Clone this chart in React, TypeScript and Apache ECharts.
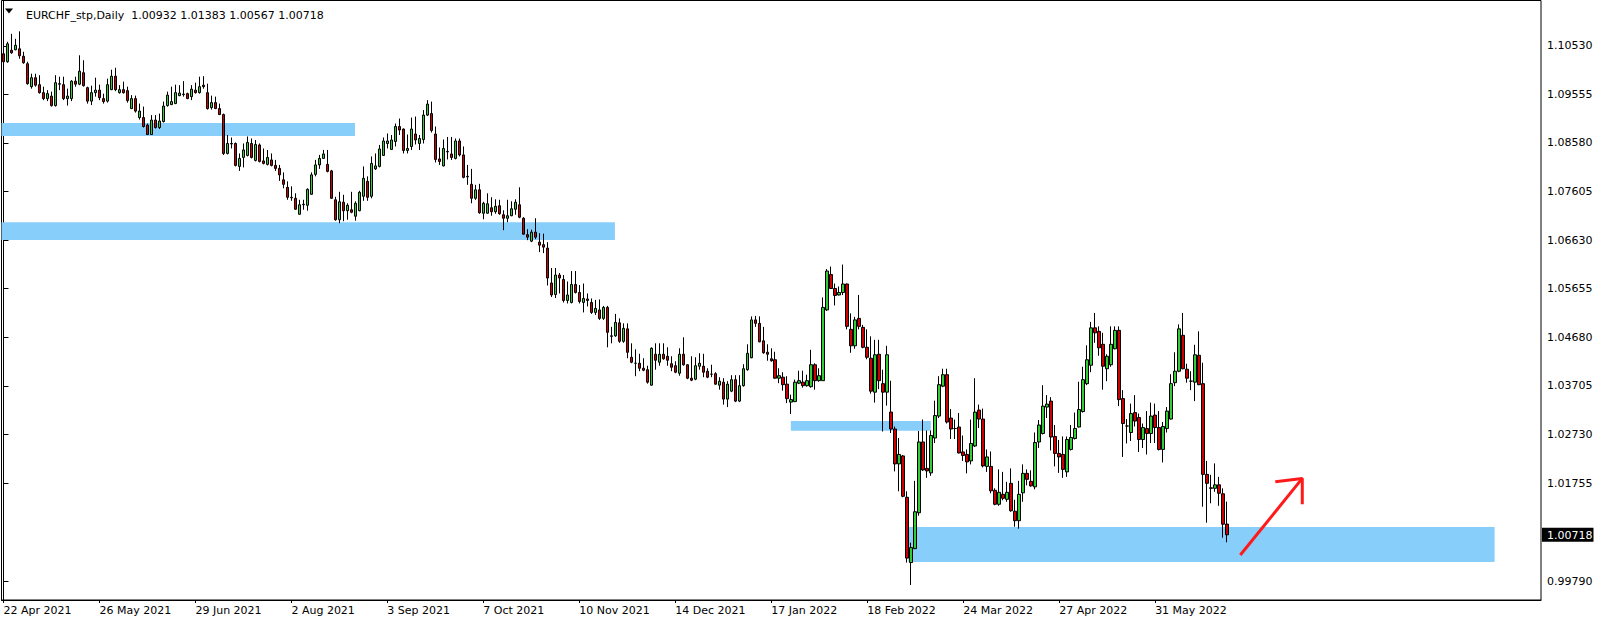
import React, { useEffect, useRef } from "react";
import * as echarts from "echarts";

const TITLE = "EURCHF_stp,Daily  1.00932 1.01383 1.00567 1.00718";
const FONT = "DejaVu Sans";

// Daily bars, each [open, high, low, close], from 22 Apr 2021
const bars2021a = [
  [1.1037, 1.1054, 1.1019, 1.1021], [1.1021, 1.1061, 1.1019, 1.1057], [1.1044, 1.1077, 1.1037, 1.1039],
  [1.1045, 1.1067, 1.1044, 1.1054], [1.1047, 1.1082, 1.1027, 1.1033], [1.1032, 1.1041, 1.1017, 1.1019],
  [1.1017, 1.1021, 1.0975, 1.0977], [1.0971, 1.0997, 1.0967, 1.0989], [1.0989, 1.0997, 1.0971, 1.0974],
  [1.0975, 1.0994, 1.0957, 1.0959], [1.0959, 1.0971, 1.0944, 1.0947], [1.0947, 1.0964, 1.0942, 1.0957],
  [1.0952, 1.0961, 1.0931, 1.0933], [1.0933, 1.0994, 1.0931, 1.0979], [1.0977, 1.0991, 1.0964, 1.0976],
  [1.0975, 1.0991, 1.0944, 1.0947], [1.0947, 1.0967, 1.0933, 1.0952], [1.0947, 1.0984, 1.0942, 1.0982],
  [1.0982, 1.0991, 1.0971, 1.0976], [1.0976, 1.1034, 1.0974, 1.1002], [1.0999, 1.1024, 1.0971, 1.0973],
  [1.0969, 1.0971, 1.0937, 1.0942], [1.0942, 1.0973, 1.0934, 1.0959], [1.0959, 1.0989, 1.0951, 1.0964],
  [1.0964, 1.0975, 1.0944, 1.0949], [1.0947, 1.0957, 1.0937, 1.0941], [1.0942, 1.0987, 1.0939, 1.0975],
  [1.0965, 1.1005, 1.0964, 1.0992], [1.0992, 1.1009, 1.0962, 1.0965], [1.0959, 1.0974, 1.0957, 1.0965],
  [1.0965, 1.0981, 1.0957, 1.0959], [1.0963, 1.0971, 1.0939, 1.0943], [1.0927, 1.0954, 1.0926, 1.0947],
  [1.0947, 1.0953, 1.0919, 1.0922], [1.0909, 1.0937, 1.0905, 1.0922], [1.0909, 1.0931, 1.0889, 1.0891],
];
const bars2021b = [
  [1.0894, 1.0897, 1.0874, 1.0875], [1.0875, 1.0914, 1.0874, 1.0904], [1.0904, 1.0914, 1.0887, 1.0889],
  [1.0889, 1.0917, 1.0886, 1.0902], [1.0901, 1.0941, 1.0899, 1.0932], [1.0933, 1.0961, 1.0931, 1.0954],
  [1.0935, 1.0971, 1.0934, 1.0941], [1.0937, 1.0975, 1.0936, 1.0959], [1.0953, 1.0974, 1.0952, 1.0958],
  [1.0956, 1.0982, 1.0951, 1.0955], [1.0957, 1.0959, 1.0946, 1.0947], [1.0951, 1.0974, 1.0944, 1.0966],
  [1.0964, 1.0979, 1.0957, 1.0959], [1.0959, 1.0991, 1.0957, 1.0971], [1.0974, 1.0992, 1.0967, 1.0971],
  [1.0959, 1.0977, 1.0925, 1.0927], [1.0929, 1.0953, 1.0925, 1.0939], [1.0939, 1.0951, 1.0926, 1.0927],
  [1.0927, 1.0937, 1.0914, 1.0915], [1.0915, 1.0917, 1.0834, 1.0837], [1.0837, 1.0874, 1.0835, 1.0857],
  [1.0857, 1.0869, 1.0847, 1.0856], [1.0857, 1.0859, 1.0811, 1.0813], [1.0811, 1.0837, 1.0802, 1.0827],
  [1.0829, 1.0857, 1.0809, 1.0844], [1.0833, 1.0871, 1.0831, 1.0859], [1.0857, 1.0867, 1.0827, 1.0829],
  [1.0823, 1.0864, 1.0821, 1.0855], [1.0854, 1.0857, 1.0819, 1.0821], [1.0822, 1.0847, 1.0815, 1.0817],
  [1.0815, 1.0844, 1.0813, 1.0829], [1.0824, 1.0837, 1.0811, 1.0813], [1.0813, 1.0824, 1.0802, 1.0807],
  [1.0807, 1.0814, 1.0782, 1.0794],
];
const bars2021c = [
  [1.0784, 1.0799, 1.0767, 1.0775], [1.0769, 1.0781, 1.0744, 1.0749], [1.0749, 1.0771, 1.0742, 1.0748],
  [1.0747, 1.0757, 1.0724, 1.0725], [1.0715, 1.0744, 1.0714, 1.0734], [1.0734, 1.0744, 1.0724, 1.0735],
  [1.0733, 1.0767, 1.0722, 1.0765], [1.0755, 1.0799, 1.0754, 1.0794], [1.0795, 1.0824, 1.0791, 1.0814],
  [1.0814, 1.0834, 1.0806, 1.0827], [1.0827, 1.0844, 1.0826, 1.0836], [1.0815, 1.0844, 1.0799, 1.0801],
  [1.0802, 1.0804, 1.0746, 1.0747], [1.0744, 1.0750, 1.0702, 1.0704], [1.0704, 1.0760, 1.0697, 1.0740],
  [1.0739, 1.0754, 1.0701, 1.0722], [1.0722, 1.0737, 1.0704, 1.0733], [1.0724, 1.0760, 1.0717, 1.0719],
  [1.0711, 1.0741, 1.0702, 1.0737], [1.0722, 1.0762, 1.0721, 1.0759], [1.0751, 1.0811, 1.0742, 1.0787],
  [1.0781, 1.0791, 1.0742, 1.0749], [1.0751, 1.0831, 1.0747, 1.0817], [1.0806, 1.0837, 1.0804, 1.0812],
  [1.0811, 1.0854, 1.0809, 1.0846], [1.0833, 1.0869, 1.0832, 1.0862], [1.0857, 1.0877, 1.0847, 1.0862],
  [1.0845, 1.0874, 1.0844, 1.0864], [1.0861, 1.0897, 1.0851, 1.0891], [1.0891, 1.0907, 1.0874, 1.0884],
  [1.0886, 1.0887, 1.0837, 1.0843], [1.0843, 1.0875, 1.0837, 1.0847], [1.0851, 1.0909, 1.0844, 1.0886],
  [1.0876, 1.0911, 1.0855, 1.0864], [1.0857, 1.0874, 1.0844, 1.0867],
];
const bars2021d = [
  [1.0865, 1.0924, 1.0857, 1.0914], [1.0914, 1.0944, 1.0912, 1.0936], [1.0917, 1.0941, 1.0879, 1.0883],
  [1.0876, 1.0891, 1.0819, 1.0825], [1.0826, 1.0849, 1.0814, 1.0821], [1.0812, 1.0865, 1.0811, 1.0847],
  [1.0840, 1.0870, 1.0825, 1.0841], [1.0836, 1.0870, 1.0824, 1.0829], [1.0827, 1.0867, 1.0825, 1.0862],
  [1.0862, 1.0867, 1.0831, 1.0834], [1.0834, 1.0851, 1.0787, 1.0789], [1.0791, 1.0814, 1.0774, 1.0790],
  [1.0775, 1.0806, 1.0737, 1.0747], [1.0747, 1.0774, 1.0744, 1.0764], [1.0764, 1.0776, 1.0716, 1.0718],
  [1.0717, 1.0740, 1.0705, 1.0737], [1.0717, 1.0757, 1.0716, 1.0736], [1.0728, 1.0749, 1.0712, 1.0720],
  [1.0720, 1.0745, 1.0716, 1.0731], [1.0732, 1.0744, 1.0714, 1.0716], [1.0714, 1.0723, 1.0683, 1.0707],
  [1.0707, 1.0744, 1.0699, 1.0712], [1.0712, 1.0741, 1.0711, 1.0726], [1.0725, 1.0745, 1.0714, 1.0739],
  [1.0734, 1.0769, 1.0707, 1.0709], [1.0707, 1.0709, 1.0674, 1.0675], [1.0674, 1.0685, 1.0663, 1.0669],
  [1.0661, 1.0684, 1.0659, 1.0679], [1.0679, 1.0707, 1.0665, 1.0669], [1.0659, 1.0677, 1.0639, 1.0653],
  [1.0654, 1.0676, 1.0637, 1.0649], [1.0647, 1.0659, 1.0572, 1.0587], [1.0577, 1.0607, 1.0549, 1.0553],
  [1.0554, 1.0607, 1.0547, 1.0593], [1.0593, 1.0597, 1.0556, 1.0587], [1.0584, 1.0593, 1.0538, 1.0542],
];
const bars2021e = [
  [1.0542, 1.0580, 1.0536, 1.0553], [1.0538, 1.0601, 1.0536, 1.0574], [1.0574, 1.0601, 1.0556, 1.0558],
  [1.0558, 1.0573, 1.0536, 1.0540], [1.0538, 1.0576, 1.0518, 1.0546], [1.0545, 1.0556, 1.0530, 1.0542],
  [1.0538, 1.0546, 1.0515, 1.0518], [1.0518, 1.0543, 1.0513, 1.0526], [1.0523, 1.0544, 1.0503, 1.0506],
  [1.0506, 1.0531, 1.0503, 1.0528], [1.0528, 1.0531, 1.0448, 1.0478], [1.0471, 1.0489, 1.0456, 1.0470],
  [1.0471, 1.0515, 1.0469, 1.0498], [1.0497, 1.0506, 1.0457, 1.0460], [1.0460, 1.0496, 1.0457, 1.0486],
  [1.0485, 1.0496, 1.0426, 1.0438], [1.0428, 1.0456, 1.0416, 1.0418], [1.0416, 1.0444, 1.0390, 1.0416],
  [1.0416, 1.0435, 1.0400, 1.0406], [1.0406, 1.0426, 1.0400, 1.0402], [1.0403, 1.0411, 1.0375, 1.0378],
  [1.0372, 1.0448, 1.0371, 1.0446], [1.0434, 1.0456, 1.0403, 1.0422], [1.0418, 1.0456, 1.0411, 1.0434],
  [1.0434, 1.0456, 1.0423, 1.0425], [1.0430, 1.0448, 1.0411, 1.0422], [1.0415, 1.0430, 1.0400, 1.0408],
  [1.0411, 1.0420, 1.0396, 1.0398], [1.0396, 1.0446, 1.0391, 1.0434], [1.0434, 1.0468, 1.0411, 1.0413],
  [1.0413, 1.0414, 1.0384, 1.0386], [1.0386, 1.0430, 1.0380, 1.0382], [1.0384, 1.0428, 1.0382, 1.0411],
  [1.0410, 1.0436, 1.0403, 1.0416], [1.0410, 1.0435, 1.0388, 1.0398],
];
const bars2022a = [
  [1.0400, 1.0406, 1.0386, 1.0388], [1.0394, 1.0413, 1.0388, 1.0394], [1.0395, 1.0398, 1.0373, 1.0374],
  [1.0372, 1.0388, 1.0363, 1.0380], [1.0378, 1.0386, 1.0333, 1.0344], [1.0344, 1.0380, 1.0328, 1.0374],
  [1.0360, 1.0392, 1.0358, 1.0383], [1.0383, 1.0392, 1.0338, 1.0340], [1.0340, 1.0392, 1.0338, 1.0371],
  [1.0371, 1.0414, 1.0369, 1.0405], [1.0403, 1.0454, 1.0401, 1.0436], [1.0427, 1.0510, 1.0426, 1.0503],
  [1.0503, 1.0511, 1.0489, 1.0496], [1.0496, 1.0510, 1.0458, 1.0459], [1.0461, 1.0489, 1.0435, 1.0437],
  [1.0438, 1.0454, 1.0421, 1.0434], [1.0425, 1.0446, 1.0419, 1.0421], [1.0423, 1.0439, 1.0385, 1.0386],
  [1.0386, 1.0406, 1.0376, 1.0391], [1.0388, 1.0398, 1.0361, 1.0373], [1.0374, 1.0390, 1.0336, 1.0345],
  [1.0338, 1.0353, 1.0314, 1.0343], [1.0339, 1.0383, 1.0338, 1.0378], [1.0376, 1.0401, 1.0374, 1.0381],
  [1.0378, 1.0401, 1.0367, 1.0371], [1.0371, 1.0393, 1.0369, 1.0381], [1.0369, 1.0443, 1.0367, 1.0413],
  [1.0413, 1.0416, 1.0363, 1.0381], [1.0381, 1.0406, 1.0379, 1.0391], [1.0381, 1.0548, 1.0381, 1.0528],
  [1.0523, 1.0605, 1.0521, 1.0601], [1.0594, 1.0610, 1.0565, 1.0566], [1.0566, 1.0576, 1.0532, 1.0552],
  [1.0553, 1.0570, 1.0552, 1.0558], [1.0558, 1.0614, 1.0553, 1.0575],
];
const bars2022b = [
  [1.0575, 1.0576, 1.0484, 1.0490], [1.0484, 1.0516, 1.0437, 1.0451], [1.0451, 1.0509, 1.0445, 1.0503],
  [1.0506, 1.0553, 1.0484, 1.0490], [1.0488, 1.0493, 1.0446, 1.0448], [1.0448, 1.0484, 1.0424, 1.0428],
  [1.0426, 1.0470, 1.0355, 1.0360], [1.0358, 1.0463, 1.0337, 1.0433], [1.0434, 1.0463, 1.0364, 1.0381],
  [1.0375, 1.0403, 1.0279, 1.0358], [1.0358, 1.0451, 1.0331, 1.0433], [1.0318, 1.0381, 1.0276, 1.0284],
  [1.0284, 1.0289, 1.0199, 1.0214], [1.0214, 1.0266, 1.0159, 1.0233], [1.0230, 1.0232, 1.0147, 1.0149],
  [1.0147, 1.0159, 1.0016, 1.0025], [1.0016, 1.0056, 0.9971, 1.0046], [1.0044, 1.0180, 1.0043, 1.0118],
  [1.0116, 1.0280, 1.0110, 1.0258], [1.0258, 1.0303, 1.0200, 1.0202], [1.0205, 1.0281, 1.0186, 1.0200],
  [1.0196, 1.0281, 1.0190, 1.0271], [1.0266, 1.0341, 1.0256, 1.0311], [1.0310, 1.0390, 1.0306, 1.0373],
  [1.0370, 1.0405, 1.0368, 1.0393], [1.0393, 1.0405, 1.0295, 1.0298], [1.0306, 1.0324, 1.0264, 1.0284],
  [1.0285, 1.0303, 1.0264, 1.0285], [1.0288, 1.0316, 1.0235, 1.0236], [1.0238, 1.0271, 1.0220, 1.0231],
  [1.0233, 1.0243, 1.0195, 1.0218], [1.0220, 1.0303, 1.0213, 1.0255], [1.0250, 1.0386, 1.0248, 1.0318],
  [1.0322, 1.0333, 1.0286, 1.0304], [1.0304, 1.0325, 1.0207, 1.0210],
];
const bars2022c = [
  [1.0209, 1.0243, 1.0198, 1.0228], [1.0209, 1.0239, 1.0155, 1.0160], [1.0161, 1.0165, 1.0131, 1.0133],
  [1.0133, 1.0203, 1.0130, 1.0157], [1.0153, 1.0198, 1.0141, 1.0145], [1.0143, 1.0178, 1.0138, 1.0157],
  [1.0175, 1.0205, 1.0118, 1.0120], [1.0119, 1.0142, 1.0088, 1.0100], [1.0100, 1.0180, 1.0084, 1.0153],
  [1.0156, 1.0213, 1.0138, 1.0195], [1.0195, 1.0203, 1.0171, 1.0183], [1.0179, 1.0201, 1.0168, 1.0170],
  [1.0168, 1.0277, 1.0163, 1.0257], [1.0258, 1.0302, 1.0246, 1.0292], [1.0275, 1.0372, 1.0273, 1.0330],
  [1.0328, 1.0352, 1.0306, 1.0334], [1.0340, 1.0348, 1.0241, 1.0268], [1.0269, 1.0292, 1.0209, 1.0235],
  [1.0235, 1.0262, 1.0196, 1.0228], [1.0233, 1.0269, 1.0186, 1.0203], [1.0198, 1.0269, 1.0188, 1.0263],
  [1.0243, 1.0292, 1.0241, 1.0267], [1.0265, 1.0317, 1.0263, 1.0285], [1.0288, 1.0379, 1.0287, 1.0323],
  [1.0319, 1.0409, 1.0317, 1.0383], [1.0375, 1.0452, 1.0372, 1.0423], [1.0412, 1.0499, 1.0398, 1.0487],
  [1.0487, 1.0517, 1.0457, 1.0477], [1.0480, 1.0490, 1.0431, 1.0447], [1.0454, 1.0477, 1.0363, 1.0410],
  [1.0405, 1.0434, 1.0380, 1.0430], [1.0413, 1.0490, 1.0409, 1.0454], [1.0445, 1.0490, 1.0444, 1.0482],
  [1.0482, 1.0490, 1.0330, 1.0343], [1.0345, 1.0362, 1.0228, 1.0295],
];
const bars2022d = [
  [1.0290, 1.0304, 1.0255, 1.0290], [1.0277, 1.0335, 1.0260, 1.0315], [1.0317, 1.0352, 1.0289, 1.0300],
  [1.0307, 1.0315, 1.0238, 1.0263], [1.0263, 1.0295, 1.0246, 1.0287], [1.0285, 1.0320, 1.0233, 1.0275],
  [1.0275, 1.0337, 1.0256, 1.0310], [1.0312, 1.0335, 1.0256, 1.0287], [1.0287, 1.0320, 1.0241, 1.0243],
  [1.0243, 1.0298, 1.0217, 1.0289], [1.0285, 1.0328, 1.0277, 1.0320], [1.0304, 1.0394, 1.0303, 1.0375],
  [1.0377, 1.0438, 1.0370, 1.0400], [1.0400, 1.0494, 1.0398, 1.0485], [1.0472, 1.0517, 1.0404, 1.0405],
  [1.0404, 1.0415, 1.0377, 1.0386], [1.0380, 1.0400, 1.0362, 1.0380], [1.0378, 1.0453, 1.0340, 1.0433],
  [1.0432, 1.0480, 1.0372, 1.0373], [1.0375, 1.0417, 1.0128, 1.0193], [1.0193, 1.0220, 1.0096, 1.0175],
  [1.0166, 1.0192, 1.0135, 1.0165], [1.0165, 1.0215, 1.0158, 1.0172], [1.0172, 1.0188, 1.0130, 1.0155],
  [1.0154, 1.0165, 1.0066, 1.0093], [1.00932, 1.01383, 1.00567, 1.00718],
];

const priceTicks = [1.1053, 1.09555, 1.0858, 1.07605, 1.0663, 1.05655, 1.0468, 1.03705, 1.0273, 1.01755, 0.9979];
const CURRENT_PRICE = 1.00718;
const Y_MIN = 0.99409;
const Y_MAX = 1.11439;
const SLOTS = 385; // visible bar slots incl. empty future space
const LABEL_EVERY = 24;
const MONTHS = ["Jan", "Feb", "Mar", "Apr", "May", "Jun", "Jul", "Aug", "Sep", "Oct", "Nov", "Dec"];

// zones drawn on the chart: [fromBar, toBar, lowPrice, highPrice]
const zones = [
  [-0.5, 87.9, 1.08718, 1.08979],
  [-0.5, 152.9, 1.06633, 1.06988],
  [196.9, 231.9, 1.02804, 1.03],
  [226.3, 372.9, 1.00171, 1.00873],
];
// red arrow drawn on the chart: [bar, price]
const arrowShaft = [[309.3, 1.00311], [324.8, 1.01849]];
const arrowHead = [[318.05, 1.01781], [324.8, 1.01849], [324.8, 1.01328]];

const allBars = [...bars2021a, ...bars2021b, ...bars2021c, ...bars2021d, ...bars2021e, ...bars2022a, ...bars2022b, ...bars2022c, ...bars2022d];

function tradingDates(n: number): string[] {
  const out: string[] = [];
  let t = Date.UTC(2021, 3, 22);
  while (out.length < n) {
    const d = new Date(t);
    const wd = d.getUTCDay();
    if (wd !== 0 && wd !== 6) out.push(`${d.getUTCDate()} ${MONTHS[d.getUTCMonth()]} ${d.getUTCFullYear()}`);
    t += 86400000;
  }
  return out;
}

export default function App() {
  const ref = useRef<HTMLDivElement>(null);
  useEffect(() => {
    if (!ref.current) return;
    const chart = echarts.init(ref.current, undefined, { renderer: "svg" });
    const n = allBars.length;
    const dates = tradingDates(n);
    const cats = Array.from({ length: SLOTS }, (_, i) => (i < n ? dates[i] : ""));
    const showIdx = (i: number) => i % LABEL_EVERY === 0 && i < n;
    const candleData = allBars.map((b) => [b[0], b[3], b[2], b[1]]);

    chart.setOption({
      animation: false,
      backgroundColor: "#fff",
      title: {
        text: TITLE,
        left: 21,
        top: 5,
        textStyle: { fontFamily: FONT, fontSize: 11, fontWeight: "normal", color: "#000" },
      },
      graphic: [
        { type: "polygon", shape: { points: [[5, 8.5], [13, 8.5], [9, 13.5]] }, style: { fill: "#000" } },
      ],
      grid: { left: 1.5, right: 63, top: 0.5, bottom: 24, show: true, borderColor: "#000", borderWidth: 1 },
      xAxis: [
        {
          type: "category",
          data: cats,
          boundaryGap: true,
          axisLine: { show: true, lineStyle: { color: "#000", width: 1 } },
          axisTick: { show: true, interval: (i: number) => showIdx(i), alignWithLabel: true, length: 3, lineStyle: { color: "#000" } },
          axisLabel: {
            interval: (i: number) => showIdx(i),
            align: "left",
            margin: 5,
            color: "#000",
            fontFamily: FONT,
            fontSize: 11,
          },
          splitLine: { show: false },
        },
        { type: "value", min: -0.5, max: SLOTS - 0.5, show: false },
      ],
      yAxis: {
        type: "value",
        position: "right",
        min: Y_MIN,
        max: Y_MAX,
        splitLine: { show: false },
        axisLine: { show: true, lineStyle: { color: "#000" } },
        axisTick: { show: true, length: 5, customValues: priceTicks, lineStyle: { color: "#000" } },
        axisLabel: {
          customValues: [...priceTicks, CURRENT_PRICE],
          margin: 1,
          color: "#000",
          fontFamily: FONT,
          fontSize: 11,
          formatter: (v: number) =>
            Math.abs(v - CURRENT_PRICE) < 1e-7 ? `{cur|${v.toFixed(5)}}` : `{n|${v.toFixed(5)}}`,
          rich: {
            n: { padding: [0, 0, 0, 5], color: "#000", fontFamily: FONT, fontSize: 11 },
            cur: {
              padding: [2, 1, 1, 5],
              backgroundColor: "#000",
              color: "#fff",
              fontFamily: FONT,
              fontSize: 11,
            },
          },
        },
      },
      series: [
        {
          type: "line",
          xAxisIndex: 1,
          data: [],
          z: 1,
          silent: true,
          markArea: {
            silent: true,
            itemStyle: { color: "#87cefa", opacity: 1 },
            data: zones.map((r) => [{ coord: [r[0], r[3]] }, { coord: [r[1], r[2]] }]),
          },
        },
        {
          type: "candlestick",
          xAxisIndex: 0,
          z: 2,
          barWidth: 3,
          data: candleData,
          itemStyle: {
            color: "#32cd32",
            color0: "#cc0000",
            borderColor: "#000",
            borderColor0: "#000",
            borderColorDoji: "#000",
            borderWidth: 1,
          },
        },
        {
          type: "line",
          xAxisIndex: 1,
          data: arrowShaft,
          symbol: "none",
          z: 3,
          lineStyle: { color: "#ff1a1a", width: 3 },
        },
        {
          type: "line",
          xAxisIndex: 1,
          data: arrowHead,
          symbol: "none",
          z: 3,
          lineStyle: { color: "#ff1a1a", width: 3 },
        },
      ],
    });
    return () => chart.dispose();
  }, []);
  return <div ref={ref} style={{ position: "fixed", left: 0, top: 0, width: 1604, height: 624 }} />;
}
